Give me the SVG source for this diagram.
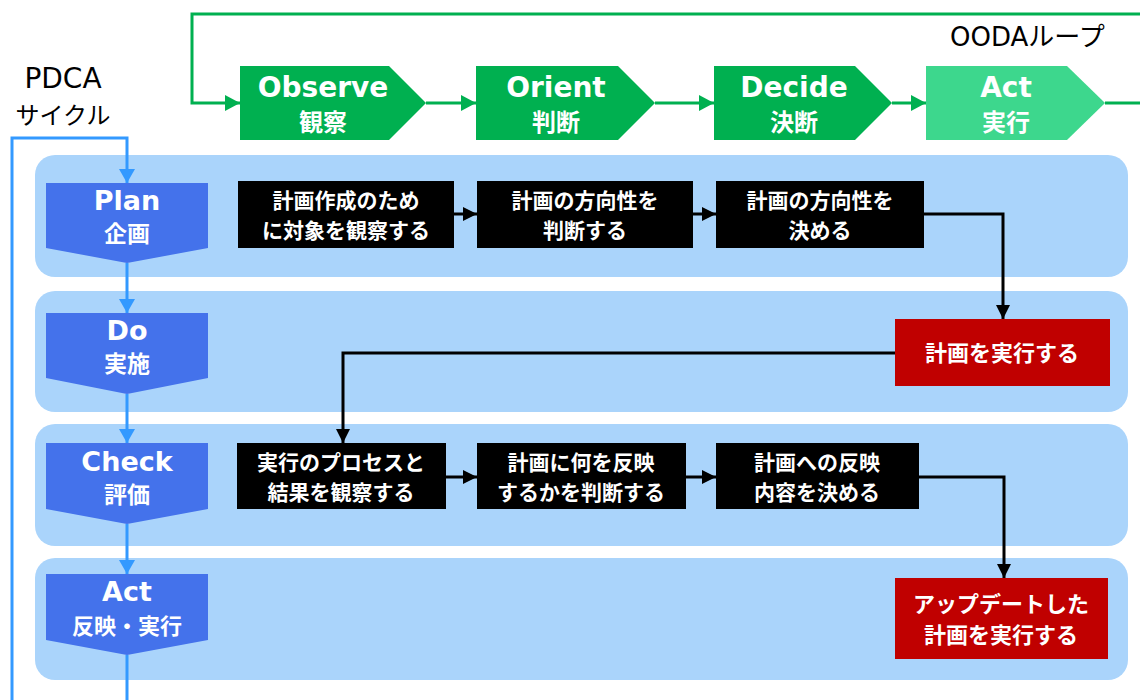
<svg xmlns="http://www.w3.org/2000/svg" width="1140" height="700" viewBox="0 0 1140 700">
<defs>
<style>
.lane{fill:#AAD4FB}
.ooda{fill:#00B050}
.ooda2{fill:#3DD78D}
.pdca{fill:#4472EB}
.blk{fill:#000000}
.red{fill:#C00000}
.en{font-family:"DejaVu Sans","Noto Sans CJK JP",sans-serif;font-weight:bold;fill:#FFFFFF;text-anchor:middle}
.jp{font-family:"Noto Sans CJK JP","DejaVu Sans",sans-serif;font-weight:bold;fill:#FFFFFF;text-anchor:middle}
.lbl{font-family:"DejaVu Sans","Noto Sans CJK JP",sans-serif;fill:#000000}
.gl{fill:none;stroke:#00B050;stroke-width:3}
.bl{fill:none;stroke:#3399FF;stroke-width:3}
.kl{fill:none;stroke:#000000;stroke-width:3}
</style>
<marker id="ag" markerUnits="userSpaceOnUse" markerWidth="16" markerHeight="16" refX="15" refY="8" orient="auto"><path d="M0,0 L15,8 L0,16 z" fill="#00B050"/></marker>
<marker id="ab" markerUnits="userSpaceOnUse" markerWidth="18" markerHeight="18" refX="14" refY="9" orient="auto"><path d="M0,1 L14,9 L0,17 z" fill="#3399FF"/></marker>
<marker id="ak" markerUnits="userSpaceOnUse" markerWidth="16" markerHeight="16" refX="14" refY="8" orient="auto"><path d="M0,1 L14,8 L0,15 z" fill="#000000"/></marker>
</defs>
<rect width="1140" height="700" fill="#FFFFFF"/>

<g id="lanes">
<rect class="lane" x="35" y="155" width="1093" height="122" rx="20"/>
<rect class="lane" x="35" y="291" width="1093" height="121" rx="20"/>
<rect class="lane" x="35" y="424" width="1093" height="122" rx="20"/>
<rect class="lane" x="35" y="558" width="1093" height="122" rx="20"/>
</g>

<g id="labels">
<text class="lbl" x="63" y="88" font-size="28" text-anchor="middle">PDCA</text>
<text class="lbl" x="63" y="124" font-size="24" text-anchor="middle">サイクル</text>
<text class="lbl" x="950" y="46" font-size="26">OODAループ</text>
</g>

<g id="connectors">
<path class="gl" d="M1105,103 H1150 V14 H192 V103 H240" marker-end="url(#ag)"/>
<path class="gl" d="M426,103 H476" marker-end="url(#ag)"/>
<path class="gl" d="M655,103 H714" marker-end="url(#ag)"/>
<path class="gl" d="M892,103 H926" marker-end="url(#ag)"/>
<path class="bl" d="M127,655 V712 H12 V138 H127 V183" marker-end="url(#ab)"/>
<path class="bl" d="M127,263 V313" marker-end="url(#ab)"/>
<path class="bl" d="M127,394 V443" marker-end="url(#ab)"/>
<path class="bl" d="M127,524 V574" marker-end="url(#ab)"/>
<path class="kl" d="M454,214 H477" marker-end="url(#ak)"/>
<path class="kl" d="M693,214 H716" marker-end="url(#ak)"/>
<path class="kl" d="M924,214 H1003 V319" marker-end="url(#ak)"/>
<path class="kl" d="M895,353 H343 V443" marker-end="url(#ak)"/>
<path class="kl" d="M446,477 H477" marker-end="url(#ak)"/>
<path class="kl" d="M686,477 H716" marker-end="url(#ak)"/>
<path class="kl" d="M919,477 H1004 V578" marker-end="url(#ak)"/>
</g>

<g id="observe">
<polygon class="ooda" points="240,66 389,66 426,103 389,140 240,140"/>
<text class="en" x="323" y="97" font-size="28">Observe</text>
<text class="jp" x="323" y="131" font-size="24">観察</text>
</g>
<g id="orient">
<polygon class="ooda" points="476,66 618,66 655,103 618,140 476,140"/>
<text class="en" x="556" y="97" font-size="28">Orient</text>
<text class="jp" x="556" y="131" font-size="24">判断</text>
</g>
<g id="decide">
<polygon class="ooda" points="714,66 855,66 892,103 855,140 714,140"/>
<text class="en" x="794" y="97" font-size="28">Decide</text>
<text class="jp" x="794" y="131" font-size="24">決断</text>
</g>
<g id="act-ooda">
<polygon class="ooda2" points="926,66 1067,66 1105,103 1067,140 926,140"/>
<text class="en" x="1006" y="97" font-size="28">Act</text>
<text class="jp" x="1006" y="131" font-size="24">実行</text>
</g>

<g id="plan">
<polygon class="pdca" points="46,183 208,183 208,248 127,263 46,248"/>
<text class="en" x="127" y="210" font-size="27">Plan</text>
<text class="jp" x="127" y="242" font-size="23">企画</text>
</g>
<g id="do">
<polygon class="pdca" points="46,313 208,313 208,378 127,394 46,378"/>
<text class="en" x="127" y="340" font-size="27">Do</text>
<text class="jp" x="127" y="372" font-size="23">実施</text>
</g>
<g id="check">
<polygon class="pdca" points="46,443 208,443 208,509 127,524 46,509"/>
<text class="en" x="127" y="471" font-size="27">Check</text>
<text class="jp" x="127" y="503" font-size="23">評価</text>
</g>
<g id="act-pdca">
<polygon class="pdca" points="46,574 208,574 208,640 127,655 46,640"/>
<text class="en" x="127" y="601" font-size="27">Act</text>
<text class="jp" x="127" y="634" font-size="22">反映・実行</text>
</g>

<g id="p1">
<rect class="blk" x="238" y="181" width="216" height="67"/>
<text class="jp" x="346" y="208" font-size="21">計画作成のため</text>
<text class="jp" x="346" y="238" font-size="21">に対象を観察する</text>
</g>
<g id="p2">
<rect class="blk" x="477" y="181" width="216" height="67"/>
<text class="jp" x="585" y="208" font-size="21">計画の方向性を</text>
<text class="jp" x="585" y="238" font-size="21">判断する</text>
</g>
<g id="p3">
<rect class="blk" x="716" y="181" width="208" height="67"/>
<text class="jp" x="820" y="208" font-size="21">計画の方向性を</text>
<text class="jp" x="820" y="238" font-size="21">決める</text>
</g>
<g id="d1">
<rect class="red" x="895" y="319" width="215" height="67"/>
<text class="jp" x="1002" y="361" font-size="22">計画を実行する</text>
</g>
<g id="c1">
<rect class="blk" x="237" y="443" width="209" height="66"/>
<text class="jp" x="341" y="470" font-size="21">実行のプロセスと</text>
<text class="jp" x="341" y="500" font-size="21">結果を観察する</text>
</g>
<g id="c2">
<rect class="blk" x="477" y="443" width="209" height="66"/>
<text class="jp" x="581" y="470" font-size="21">計画に何を反映</text>
<text class="jp" x="581" y="500" font-size="21">するかを判断する</text>
</g>
<g id="c3">
<rect class="blk" x="716" y="443" width="203" height="66"/>
<text class="jp" x="817" y="470" font-size="21">計画への反映</text>
<text class="jp" x="817" y="500" font-size="21">内容を決める</text>
</g>
<g id="a1">
<rect class="red" x="895" y="578" width="213" height="81"/>
<text class="jp" x="1001" y="612" font-size="22">アップデートした</text>
<text class="jp" x="1001" y="643" font-size="22">計画を実行する</text>
</g>
</svg>
